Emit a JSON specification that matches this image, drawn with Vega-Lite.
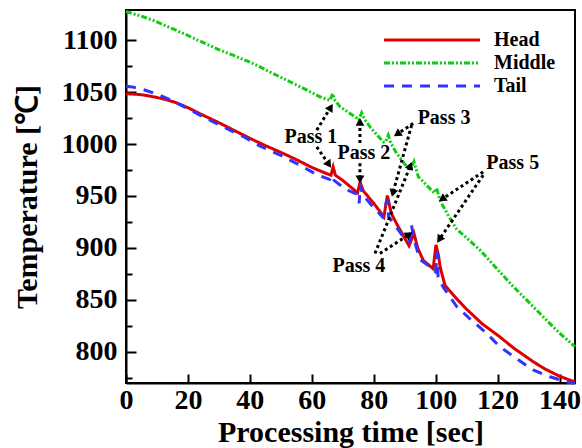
{
  "$schema": "https://vega.github.io/schema/vega-lite/v6.json",
  "width": 449,
  "height": 373,
  "autosize": {"type": "none"},
  "padding": {"left": 126, "top": 10, "right": 7, "bottom": 65},
  "background": "white",
  "config": {
    "view": {"stroke": "black", "strokeWidth": 2},
    "font": "Liberation Serif",
    "axis": {
      "grid": false,
      "domainColor": "black",
      "domainWidth": 2,
      "tickColor": "black",
      "tickWidth": 2,
      "labelFont": "Liberation Serif",
      "labelFontSize": 28,
      "labelFontWeight": "bold",
      "labelColor": "black",
      "labelOverlap": false,
      "labelFlush": false,
      "titleFont": "Liberation Serif",
      "titleFontSize": 30,
      "titleFontWeight": "bold",
      "titleColor": "black"
    },
    "legend": {
      "orient": "none",
      "legendX": 256,
      "legendY": 20,
      "padding": 0,
      "title": null,
      "symbolType": "M-1,0H11",
      "symbolSize": 256,
      "symbolStrokeWidth": 3,
      "labelOffset": 92,
      "labelFont": "Liberation Serif",
      "labelFontSize": 20,
      "labelFontWeight": "bold",
      "labelColor": "black",
      "rowPadding": 3
    }
  },
  "resolve": {"scale": {"y": "shared", "x": "shared"}, "axis": {"y": "independent"}},
  "datasets": {
    "curves": [
      {"s": "Head", "t": 0, "T": 1048.5}, {"s": "Head", "t": 5, "T": 1047.5}, {"s": "Head", "t": 8, "T": 1046},
      {"s": "Head", "t": 12, "T": 1043.5}, {"s": "Head", "t": 16, "T": 1040}, {"s": "Head", "t": 20, "T": 1035},
      {"s": "Head", "t": 24, "T": 1029}, {"s": "Head", "t": 30, "T": 1020.5}, {"s": "Head", "t": 35, "T": 1013},
      {"s": "Head", "t": 40, "T": 1005.5}, {"s": "Head", "t": 45, "T": 998.5}, {"s": "Head", "t": 50, "T": 992},
      {"s": "Head", "t": 55, "T": 985}, {"s": "Head", "t": 60, "T": 977.5}, {"s": "Head", "t": 64, "T": 972.5},
      {"s": "Head", "t": 66.2, "T": 970}, {"s": "Head", "t": 66.9, "T": 978}, {"s": "Head", "t": 67.6, "T": 970},
      {"s": "Head", "t": 70, "T": 965}, {"s": "Head", "t": 74.8, "T": 953}, {"s": "Head", "t": 75.6, "T": 963.5},
      {"s": "Head", "t": 76.6, "T": 955}, {"s": "Head", "t": 80, "T": 943}, {"s": "Head", "t": 83.3, "T": 930},
      {"s": "Head", "t": 84.4, "T": 950.5}, {"s": "Head", "t": 85.7, "T": 933}, {"s": "Head", "t": 88, "T": 920},
      {"s": "Head", "t": 91.4, "T": 902}, {"s": "Head", "t": 93, "T": 914}, {"s": "Head", "t": 94.2, "T": 900},
      {"s": "Head", "t": 96, "T": 888}, {"s": "Head", "t": 99.2, "T": 880}, {"s": "Head", "t": 100.1, "T": 903},
      {"s": "Head", "t": 100.9, "T": 893}, {"s": "Head", "t": 101.5, "T": 881}, {"s": "Head", "t": 103, "T": 864},
      {"s": "Head", "t": 106.8, "T": 851}, {"s": "Head", "t": 110, "T": 841}, {"s": "Head", "t": 115, "T": 827},
      {"s": "Head", "t": 120.7, "T": 814.5}, {"s": "Head", "t": 125, "T": 804}, {"s": "Head", "t": 131.5, "T": 790.5},
      {"s": "Head", "t": 135, "T": 784}, {"s": "Head", "t": 140, "T": 776.5}, {"s": "Head", "t": 145, "T": 771},

      {"s": "Middle", "t": 0, "T": 1127.5}, {"s": "Middle", "t": 5, "T": 1123}, {"s": "Middle", "t": 8.8, "T": 1119},
      {"s": "Middle", "t": 15, "T": 1111}, {"s": "Middle", "t": 19.6, "T": 1105}, {"s": "Middle", "t": 25, "T": 1097.5},
      {"s": "Middle", "t": 30.3, "T": 1090.5}, {"s": "Middle", "t": 35, "T": 1085}, {"s": "Middle", "t": 41.1, "T": 1077.5},
      {"s": "Middle", "t": 46, "T": 1070}, {"s": "Middle", "t": 51.9, "T": 1061.5}, {"s": "Middle", "t": 57, "T": 1054},
      {"s": "Middle", "t": 62.6, "T": 1045.5}, {"s": "Middle", "t": 65.9, "T": 1042}, {"s": "Middle", "t": 66.7, "T": 1048.5},
      {"s": "Middle", "t": 67.5, "T": 1042}, {"s": "Middle", "t": 69.1, "T": 1036}, {"s": "Middle", "t": 74.5, "T": 1025},
      {"s": "Middle", "t": 75.1, "T": 1023}, {"s": "Middle", "t": 76.1, "T": 1030}, {"s": "Middle", "t": 77, "T": 1024},
      {"s": "Middle", "t": 78.8, "T": 1016.5}, {"s": "Middle", "t": 83.1, "T": 1002}, {"s": "Middle", "t": 83.8, "T": 1002},
      {"s": "Middle", "t": 84.7, "T": 1008.5}, {"s": "Middle", "t": 85.5, "T": 1001}, {"s": "Middle", "t": 87.4, "T": 991},
      {"s": "Middle", "t": 91.1, "T": 976.5}, {"s": "Middle", "t": 92, "T": 976}, {"s": "Middle", "t": 93, "T": 983},
      {"s": "Middle", "t": 94.4, "T": 968.5}, {"s": "Middle", "t": 99.2, "T": 954}, {"s": "Middle", "t": 99.7, "T": 953},
      {"s": "Middle", "t": 100.3, "T": 957.5}, {"s": "Middle", "t": 101.2, "T": 948}, {"s": "Middle", "t": 101.9, "T": 943},
      {"s": "Middle", "t": 104.6, "T": 928.5}, {"s": "Middle", "t": 106.8, "T": 918}, {"s": "Middle", "t": 111, "T": 907},
      {"s": "Middle", "t": 114.3, "T": 898}, {"s": "Middle", "t": 120.7, "T": 877}, {"s": "Middle", "t": 125, "T": 863},
      {"s": "Middle", "t": 131.5, "T": 843.5}, {"s": "Middle", "t": 135.8, "T": 830.5}, {"s": "Middle", "t": 140, "T": 818},
      {"s": "Middle", "t": 145, "T": 805},

      {"s": "Tail", "t": 0, "T": 1055.5}, {"s": "Tail", "t": 2, "T": 1055}, {"s": "Tail", "t": 6, "T": 1052},
      {"s": "Tail", "t": 10, "T": 1048}, {"s": "Tail", "t": 14, "T": 1043}, {"s": "Tail", "t": 20, "T": 1034},
      {"s": "Tail", "t": 26, "T": 1024.5}, {"s": "Tail", "t": 31.4, "T": 1016.5}, {"s": "Tail", "t": 38, "T": 1007},
      {"s": "Tail", "t": 43.3, "T": 998}, {"s": "Tail", "t": 50, "T": 989}, {"s": "Tail", "t": 56, "T": 980},
      {"s": "Tail", "t": 61.6, "T": 970.5}, {"s": "Tail", "t": 65.8, "T": 966}, {"s": "Tail", "t": 66.5, "T": 970},
      {"s": "Tail", "t": 67.2, "T": 965}, {"s": "Tail", "t": 71.2, "T": 956}, {"s": "Tail", "t": 74.8, "T": 951.5},
      {"s": "Tail", "t": 75.3, "T": 943}, {"s": "Tail", "t": 75.7, "T": 961}, {"s": "Tail", "t": 76.3, "T": 952},
      {"s": "Tail", "t": 79.3, "T": 941}, {"s": "Tail", "t": 82.8, "T": 930}, {"s": "Tail", "t": 84.3, "T": 946},
      {"s": "Tail", "t": 84.8, "T": 930}, {"s": "Tail", "t": 86.8, "T": 922}, {"s": "Tail", "t": 89.5, "T": 911},
      {"s": "Tail", "t": 91.4, "T": 906}, {"s": "Tail", "t": 92.2, "T": 922}, {"s": "Tail", "t": 93, "T": 908},
      {"s": "Tail", "t": 94.9, "T": 889}, {"s": "Tail", "t": 98.1, "T": 882}, {"s": "Tail", "t": 100, "T": 877},
      {"s": "Tail", "t": 100.5, "T": 896}, {"s": "Tail", "t": 100.8, "T": 872}, {"s": "Tail", "t": 102.4, "T": 862.5},
      {"s": "Tail", "t": 106.8, "T": 843.5}, {"s": "Tail", "t": 111, "T": 832}, {"s": "Tail", "t": 116.4, "T": 818},
      {"s": "Tail", "t": 120.7, "T": 805}, {"s": "Tail", "t": 126.1, "T": 793.5}, {"s": "Tail", "t": 131.5, "T": 782.5},
      {"s": "Tail", "t": 136.9, "T": 776}, {"s": "Tail", "t": 142.3, "T": 771}, {"s": "Tail", "t": 145, "T": 770}
    ],
    "arrows": [
      {"x": 61.6, "y": 1013.4, "x2": 65.9, "y2": 1034.3, "heading": 31.5},
      {"x": 61.6, "y": 997.3, "x2": 65.3, "y2": 981.3, "heading": 145},
      {"x": 75.55, "y": 1000.9, "x2": 75.55, "y2": 1020.1, "heading": 0},
      {"x": 75.55, "y": 981.6, "x2": 75.55, "y2": 967.2, "heading": 180},
      {"x": 92.75, "y": 1019.8, "x2": 87.9, "y2": 1010.2, "heading": 236},
      {"x": 92.24, "y": 1018.2, "x2": 86.3, "y2": 954.0, "heading": 195},
      {"x": 80.4, "y": 894.7, "x2": 91.7, "y2": 978.1, "heading": 22},
      {"x": 82.0, "y": 894.7, "x2": 91.1, "y2": 912.3, "heading": 57},
      {"x": 115.35, "y": 973.2, "x2": 102.4, "y2": 947.6, "heading": 236},
      {"x": 115.35, "y": 970.1, "x2": 101.4, "y2": 909.1, "heading": 214}
    ],
    "passes": [
      {"label": "Pass 1", "x": 59.7, "y": 1006.6},
      {"label": "Pass 2", "x": 76.8, "y": 991.2},
      {"label": "Pass 3", "x": 102.7, "y": 1025},
      {"label": "Pass 4", "x": 75.2, "y": 882.5},
      {"label": "Pass 5", "x": 124.9, "y": 981.6}
    ]
  },
  "layer": [
    {
      "data": {"name": "curves"},
      "mark": {"type": "line", "strokeWidth": 3},
      "encoding": {
        "x": {
          "field": "t", "type": "quantitative",
          "scale": {"domain": [0, 145], "nice": false, "zero": false},
          "axis": {
            "title": "Processing time [sec]",
            "values": [0, 10, 20, 30, 40, 50, 60, 70, 80, 90, 100, 110, 120, 130, 140],
            "labelExpr": "datum.value % 20 === 0 ? datum.label : ''",
            "tickSize": {"condition": {"test": "datum.value % 20 === 0", "value": -9}, "value": -5},
            "labelPadding": 12,
            "titlePadding": 3
          }
        },
        "y": {
          "field": "T", "type": "quantitative",
          "scale": {"domain": [770, 1129], "nice": false, "zero": false},
          "axis": {
            "orient": "left",
            "title": "Temperature [℃]",
            "values": [800, 850, 900, 950, 1000, 1050, 1100],
            "format": "d",
            "tickSize": -10,
            "labelPadding": 19,
            "titlePadding": 19
          }
        },
        "color": {
          "field": "s", "type": "nominal",
          "scale": {"domain": ["Head", "Middle", "Tail"], "range": ["#dd0000", "#11cc11", "#3333ff"]}
        },
        "strokeDash": {
          "field": "s", "type": "nominal",
          "scale": {"domain": ["Head", "Middle", "Tail"], "range": [[1, 0], [6, 2, 2, 2, 2, 2], [10, 8]]}
        }
      }
    },
    {
      "data": {"name": "arrows"},
      "mark": {"type": "rule", "color": "black", "strokeWidth": 3, "strokeDash": [3, 3]},
      "encoding": {
        "x": {"field": "x", "type": "quantitative"},
        "y": {
          "field": "y", "type": "quantitative",
          "axis": {
            "orient": "left",
            "values": [775, 825, 875, 925, 975, 1025, 1075],
            "labels": false,
            "domain": false,
            "title": null,
            "tickSize": -6
          }
        },
        "x2": {"field": "x2"},
        "y2": {"field": "y2"}
      }
    },
    {
      "data": {"name": "arrows"},
      "mark": {"type": "point", "shape": "triangle", "filled": true, "color": "black", "opacity": 1, "size": 80},
      "encoding": {
        "x": {"field": "x2", "type": "quantitative"},
        "y": {"field": "y2", "type": "quantitative", "axis": null},
        "angle": {"field": "heading", "type": "quantitative", "scale": null}
      }
    },
    {
      "data": {"name": "passes"},
      "mark": {"type": "text", "font": "Liberation Serif", "fontSize": 20, "fontWeight": "bold", "color": "black", "align": "center", "baseline": "middle"},
      "encoding": {
        "x": {"field": "x", "type": "quantitative"},
        "y": {"field": "y", "type": "quantitative", "axis": null},
        "text": {"field": "label"}
      }
    }
  ]
}
